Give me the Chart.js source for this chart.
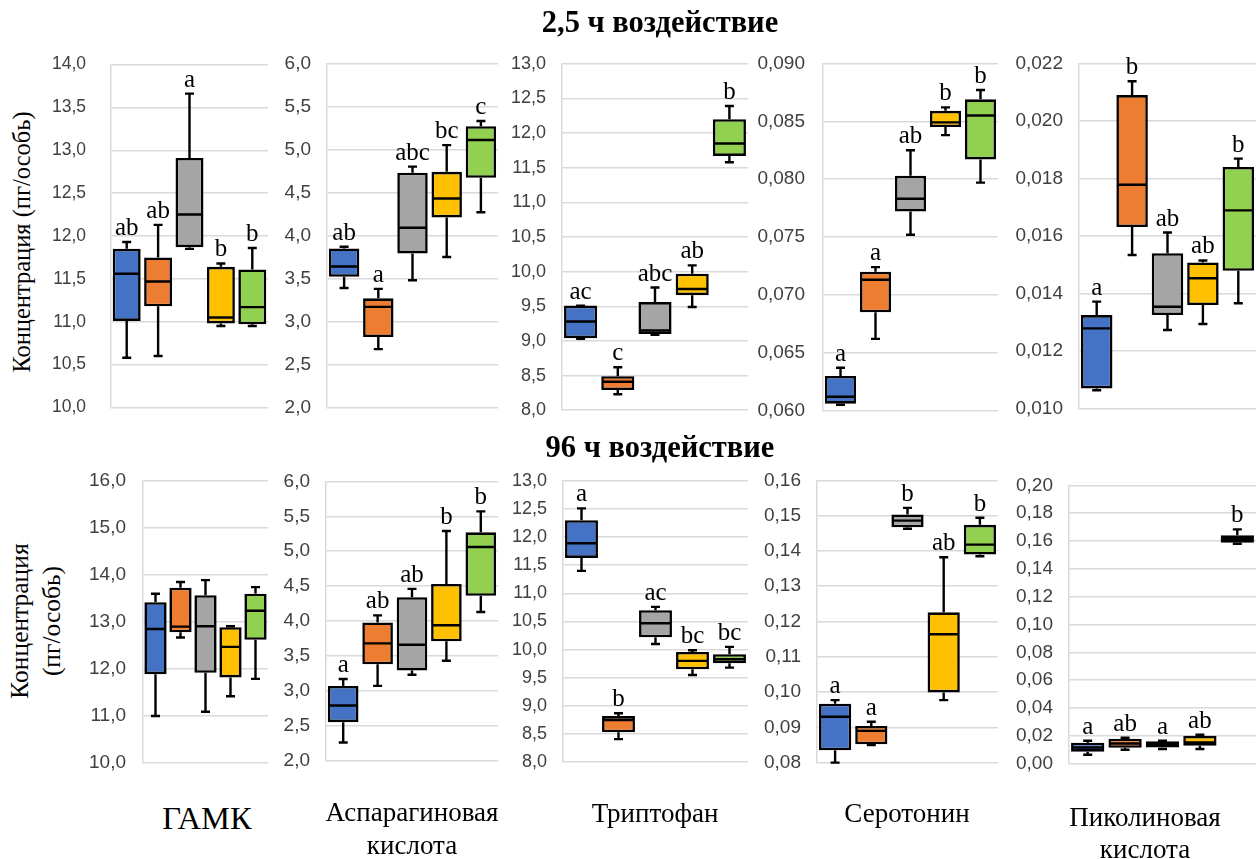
<!DOCTYPE html>
<html><head><meta charset="utf-8">
<script src="https://cdn.jsdelivr.net/npm/chart.js@4.4.1/dist/chart.umd.min.js"></script>
<style>
html,body{margin:0;padding:0;background:#fff}
body{width:1256px;height:859px;position:relative;overflow:hidden;font-family:'Liberation Serif','Times New Roman',serif;color:#000}
canvas.c{position:absolute}
.t{position:absolute;white-space:nowrap;transform:translate(-50%,-50%);line-height:1}
.r{transform:translate(-50%,-50%) rotate(-90deg)}
</style></head>
<body>
<script>
// ---- data: [min, Q1, median, Q3, max] per group ----
const groups = ['1','2','3','4','5'];

const gaba25 = [[10.58,11.01,11.56,11.85,11.93],[10.60,11.18,11.47,11.75,12.13],[11.85,11.87,12.25,12.91,13.66],[10.95,10.98,11.05,11.64,11.68],[10.95,10.97,11.17,11.61,11.86]];
const gaba25Letters = ['ab','ab','a','b','b'];
const asp25 = [[3.39,3.52,3.64,3.85,3.87],[2.68,2.82,3.17,3.27,3.38],[3.48,3.79,4.09,4.73,4.80],[3.75,4.21,4.43,4.74,5.05],[4.27,4.67,5.11,5.27,5.33]];
const asp25Letters = ['ab','a','abc','bc','c'];
const trp25 = [[9.03,9.04,9.28,9.51,9.51],[8.23,8.29,8.41,8.49,8.62],[9.09,9.10,9.15,9.56,9.77],[9.49,9.66,9.75,9.97,10.09],[11.58,11.67,11.85,12.20,12.39]];
const trp25Letters = ['ac','c','abc','ab','b'];
const ser25 = [[0.0605,0.0606,0.0612,0.0630,0.0637],[0.0662,0.0685,0.0713,0.0720,0.0724],[0.0752,0.0772,0.0783,0.0803,0.0825],[0.0838,0.0845,0.0849,0.0859,0.0862],[0.0797,0.0817,0.0855,0.0869,0.0877]];
const ser25Letters = ['a','a','ab','b','b'];
const pic25 = [[0.01064,0.0107,0.01279,0.01325,0.01372],[0.01534,0.01631,0.01778,0.0209,0.02138],[0.01273,0.01325,0.01354,0.0154,0.01612],[0.01294,0.0136,0.01453,0.01508,0.01515],[0.01366,0.01479,0.01689,0.0184,0.01869]];
const pic25Letters = ['a','b','ab','ab','b'];

const gaba96 = [[10.99,11.88,12.84,13.41,13.59],[12.66,12.77,12.89,13.72,13.84],[11.08,11.91,12.90,13.56,13.88],[11.41,11.81,12.46,12.88,12.90],[11.78,12.61,13.23,13.59,13.73]];
const gaba96Letters = ['','','','',''];
const asp96 = [[2.26,2.55,2.79,3.07,3.17],[3.07,3.38,3.68,3.98,4.08],[3.23,3.29,3.66,4.34,4.46],[3.43,3.71,3.94,4.53,5.29],[4.13,4.36,5.06,5.27,5.57]];
const asp96Letters = ['a','ab','ab','b','b'];
const trp96 = [[11.40,11.63,11.89,12.30,12.51],[8.41,8.53,8.75,8.82,8.87],[10.10,10.22,10.47,10.70,10.76],[9.55,9.65,9.80,9.96,9.99],[9.68,9.76,9.83,9.92,10.05]];
const trp96Letters = ['a','b','ac','bc','bc'];
const ser96 = [[0.0800,0.0835,0.0930,0.0967,0.0977],[0.0850,0.0852,0.0890,0.0904,0.0916],[0.1463,0.1467,0.1486,0.1503,0.1522],[0.0977,0.0999,0.1164,0.1226,0.1382],[0.1385,0.1390,0.1418,0.1474,0.1494]];
const ser96Letters = ['a','a','b','ab','b'];
const pic96 = [[0.0064,0.0086,0.0116,0.0150,0.0164],[0.0100,0.0114,0.0145,0.0179,0.0186],[0.0105,0.0116,0.0140,0.0160,0.0164],[0.0105,0.0129,0.0152,0.0200,0.0207],[0.1580,0.1588,0.1617,0.1641,0.1684]];
const pic96Letters = ['a','ab','a','ab','b'];

// ---- tick labels ----
const ticksGaba25 = [10.0,10.5,11.0,11.5,12.0,12.5,13.0,13.5,14.0];
const ticksAsp = [2.0,2.5,3.0,3.5,4.0,4.5,5.0,5.5,6.0];
const ticksTrp = [8.0,8.5,9.0,9.5,10.0,10.5,11.0,11.5,12.0,12.5,13.0];
const ticksSer25 = [0.060,0.065,0.070,0.075,0.080,0.085,0.090];
const ticksPic25 = [0.010,0.012,0.014,0.016,0.018,0.020,0.022];
const ticksGaba96 = [10.0,11.0,12.0,13.0,14.0,15.0,16.0];
const ticksSer96 = [0.08,0.09,0.10,0.11,0.12,0.13,0.14,0.15,0.16];
const ticksPic96 = [0.00,0.02,0.04,0.06,0.08,0.10,0.12,0.14,0.16,0.18,0.20];

const groupColors = ['#4472C4','#ED7D31','#A5A5A5','#FFC000','#92D050'];

// ---- layout (plot-area pixel boxes) ----
const panels = [
  {data:gaba25, letters:gaba25Letters, ticks:ticksGaba25, dec:1, l:111, r:268, t:64, b:407, pad:25, fs:17.5},
  {data:asp25,  letters:asp25Letters,  ticks:ticksAsp,    dec:1, l:327, r:498, t:63, b:407, pad:16, fs:19},
  {data:trp25,  letters:trp25Letters,  ticks:ticksTrp,    dec:1, l:562, r:748, t:64, b:410, pad:16, fs:18},
  {data:ser25,  letters:ser25Letters,  ticks:ticksSer25,  dec:3, l:823, r:998, t:63, b:410, pad:18, fs:19},
  {data:pic25,  letters:pic25Letters,  ticks:ticksPic25,  dec:3, l:1079,r:1256,t:63, b:408, pad:16, fs:19},
  {data:gaba96, letters:gaba96Letters, ticks:ticksGaba96, dec:1, l:143, r:268, t:480, b:762, pad:17, fs:19},
  {data:asp96,  letters:asp96Letters,  ticks:ticksAsp,    dec:1, l:326, r:498, t:481, b:760, pad:16, fs:19},
  {data:trp96,  letters:trp96Letters,  ticks:ticksTrp,    dec:1, l:563, r:748, t:481, b:762, pad:16, fs:18},
  {data:ser96,  letters:ser96Letters,  ticks:ticksSer96,  dec:2, l:817, r:998, t:480, b:762, pad:16, fs:19},
  {data:pic96,  letters:pic96Letters,  ticks:ticksPic96,  dec:2, l:1069,r:1256,t:485, b:763, pad:16, fs:19}
];

const AXW = 74, PADT = 20, PADB = 14;

function boxPlugin(p){
  return {
    id:'boxwhisk',
    afterDatasetsDraw(chart){
      const ctx = chart.ctx, y = chart.scales.y;
      const meta = chart.getDatasetMeta(0);
      meta.data.forEach((bar,i)=>{
        const s = p.data[i];
        const x = bar.x, hw = bar.width/2;
        const py = v => y.getPixelForValue(v);
        ctx.save();
        ctx.strokeStyle = '#000';
        ctx.lineWidth = 2.4;
        ctx.lineCap = 'butt';
        ctx.beginPath();
        ctx.moveTo(x, py(s[3])); ctx.lineTo(x, py(s[4]));
        ctx.moveTo(x-4.5, py(s[4])); ctx.lineTo(x+4.5, py(s[4]));
        ctx.moveTo(x, py(s[1])); ctx.lineTo(x, py(s[0]));
        ctx.moveTo(x-4.5, py(s[0])); ctx.lineTo(x+4.5, py(s[0]));
        ctx.moveTo(x-hw+1.5, py(s[2])); ctx.lineTo(x+hw-1.5, py(s[2]));
        ctx.stroke();
        if (p.letters[i]) {
          ctx.fillStyle = '#000';
          ctx.font = '25px "Liberation Serif"';
          ctx.textAlign = 'center';
          ctx.textBaseline = 'alphabetic';
          ctx.fillText(p.letters[i], x, py(s[4]) - 7);
        }
        ctx.restore();
      });
    }
  };
}

function build(p, W, H, left, top){
  const cv = document.createElement('canvas');
  cv.className = 'c';
  cv.width = W; cv.height = H;
  cv.style.width = W+'px'; cv.style.height = H+'px';
  cv.style.left = left+'px'; cv.style.top = top+'px';
  document.body.appendChild(cv);
  const chart = new Chart(cv, {
    type:'bar',
    data:{labels:groups, datasets:[{
      data:p.data.map(d=>[d[1],d[3]]),
      backgroundColor:groupColors, borderColor:'#000', borderWidth:2.6, borderSkipped:false,
      barPercentage:0.89, categoryPercentage:1
    }]},
    options:{
      responsive:false, maintainAspectRatio:false, animation:false, devicePixelRatio:1,
      layout:{padding:{top:PADT,bottom:PADB,left:0,right:0}},
      plugins:{legend:{display:false}, tooltip:{enabled:false}},
      scales:{
        x:{display:false},
        y:{
          min:p.ticks[0], max:p.ticks[p.ticks.length-1],
          afterBuildTicks:s=>{ s.ticks = p.ticks.map(v=>({value:v})); },
          afterFit:s=>{ s.width = AXW; },
          ticks:{callback:v=>Number(v).toFixed(p.dec).replace('.',','), font:{family:'Liberation Sans', size:p.fs}, color:'#404040', padding:p.pad},
          grid:{color:'#d9d9d9', lineWidth:1.5, drawTicks:false},
          border:{color:'#d9d9d9', width:1.5}
        }
      }
    },
    plugins:[boxPlugin(p)]
  });
  return {chart, cv};
}

panels.forEach(p=>{
  const W = p.r - p.l + AXW, H = p.b - p.t + PADT + PADB;
  const first = build(p, W, H, p.l - AXW, p.t - PADT);
  const ca = first.chart.chartArea;
  const offT = ca.top, offB = H - ca.bottom, offL = ca.left, offR = W - ca.right;
  first.chart.destroy();
  first.cv.remove();
  const W2 = Math.round((p.r - p.l) + offL + offR), H2 = Math.round((p.b - p.t) + offT + offB);
  build(p, W2, H2, Math.round(p.l - offL), Math.round(p.t - offT));
});

function txt(s, cx, cy, css, rot){
  const d = document.createElement('div');
  d.className = 't' + (rot ? ' r' : '');
  d.textContent = s;
  d.style.left = cx+'px'; d.style.top = cy+'px';
  d.style.cssText += css;
  document.body.appendChild(d);
}
txt('2,5 ч воздействие', 660, 22, 'font-weight:bold;font-size:30.5px;');
txt('96 ч воздействие', 660, 447, 'font-weight:bold;font-size:30.5px;');
txt('Концентрация (пг/особь)', 22, 242, 'font-size:24.5px;', true);
txt('Концентрация', 20, 621, 'font-size:25.5px;', true);
txt('(пг/особь)', 52, 621, 'font-size:25.5px;', true);
txt('ГАМК', 207, 818, 'font-size:32.5px;');
txt('Аспарагиновая', 412, 812, 'font-size:27px;');
txt('кислота', 412, 845, 'font-size:27px;');
txt('Триптофан', 655, 813, 'font-size:27px;');
txt('Серотонин', 907, 813, 'font-size:27px;');
txt('Пиколиновая', 1145, 817, 'font-size:27px;');
txt('кислота', 1145, 849, 'font-size:27px;');
</script>
</body></html>
